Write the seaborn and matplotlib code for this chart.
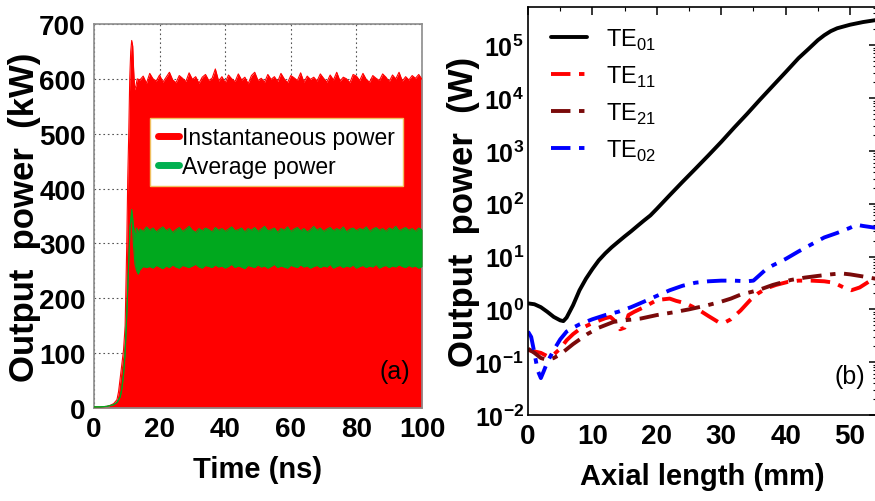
import numpy as np
import pandas as pd
import matplotlib
matplotlib.use("Agg")
import matplotlib.pyplot as plt
import seaborn as sns
from matplotlib.ticker import FixedLocator, FixedFormatter, NullFormatter, LogLocator
from matplotlib.lines import Line2D

sns.set_theme(style="white")
FAM = ["Liberation Sans Narrow", "Liberation Sans", "DejaVu Sans"]
plt.rcParams["font.family"] = FAM
plt.rcParams["text.color"] = "black"
plt.rcParams["axes.labelcolor"] = "black"
plt.rcParams["xtick.color"] = "black"
plt.rcParams["ytick.color"] = "black"
plt.rcParams["mathtext.fontset"] = "custom"
plt.rcParams["mathtext.rm"] = "Liberation Sans"
plt.rcParams["mathtext.bf"] = "Liberation Sans:bold"

# ---------------- panel (a) data ----------------
rise_t = [0, 2, 4, 5, 6, 7, 7.5, 8, 8.5, 9, 9.5, 10, 10.3, 10.6, 10.9, 11.2, 11.5, 11.8, 12.1, 12.4, 12.8, 13.2]
rise_inst = [2, 2, 3, 5, 8, 15, 30, 55, 80, 105, 150, 300, 420, 500, 600, 650, 670, 660, 615, 580, 588, 600]
steady_t = list(range(14, 101))
steady_inst = [598, 605, 592, 610, 600, 596, 607, 594, 603, 612, 598, 593, 606, 601, 595, 611, 599, 604,
               592, 603, 608, 597, 601, 618, 596, 604, 593, 607, 600, 595, 609, 598, 603, 591, 606, 612,
               597, 601, 594, 608, 599, 604, 595, 610, 600, 593, 606, 602, 597, 611, 594, 605, 599, 603,
               596, 609, 601, 594, 607, 598, 612, 596, 603, 600, 593, 608, 605, 597, 610, 599, 594, 606,
               601, 597, 609, 603, 595, 607, 600, 612, 596, 604, 598, 606, 601, 608, 599]

avg_rise_t = [0, 2, 4, 6, 7, 8, 8.5, 9, 9.5, 10, 10.5, 11, 11.5, 12, 12.5, 13, 13.5, 14, 15, 16]
avg_rise_hi = [2, 2, 3, 6, 10, 20, 35, 60, 100, 170, 250, 330, 362, 335, 312, 328, 320, 326, 322, 330]
avg_rise_lo = [2, 2, 3, 6, 10, 20, 35, 60, 100, 170, 250, 330, 355, 300, 262, 250, 244, 252, 258, 256]
avg_steady_t = list(range(17, 101))
avg_steady_hi = [324, 328, 321, 326, 330, 323, 327, 320, 325, 329, 322, 326, 331, 324, 320, 327, 323,
                 328, 325, 321, 329, 324, 327, 322, 326, 330, 323, 325, 328, 321, 327, 324, 329, 322,
                 326, 331, 323, 325, 328, 320, 327, 324, 330, 322, 326, 329, 323, 327, 321, 325, 331,
                 324, 328, 322, 326, 329, 323, 327, 324, 330, 321, 326, 328, 323, 327, 325, 330, 322,
                 326, 329, 324, 327, 322, 328, 325, 331, 323, 326, 329, 324, 327, 322, 328, 325]
avg_steady_lo = [258, 255, 260, 257, 254, 259, 256, 261, 257, 255, 260, 258, 256, 259, 262, 257, 255,
                 260, 258, 256, 261, 257, 259, 255, 258, 262, 256, 259, 257, 254, 260, 258, 256, 261,
                 257, 259, 255, 258, 262, 256, 259, 257, 255, 260, 258, 256, 261, 257, 259, 255, 258,
                 260, 256, 259, 257, 262, 255, 258, 260, 256, 259, 257, 261, 255, 258, 260, 256, 259,
                 257, 262, 255, 258, 260, 256, 259, 257, 261, 258, 256, 260, 257, 259, 255, 258]

a_xticks = [0, 20, 40, 60, 80, 100]
a_yticks = [0, 100, 200, 300, 400, 500, 600, 700]

# ---------------- panel (b) data ----------------
te01_x = [0, 1, 2, 3, 4, 5, 5.5, 6, 7, 8, 9, 10, 11, 12, 13, 14, 15, 16, 17, 18, 19, 20, 22, 24, 26,
          28, 30, 32, 34, 36, 38, 40, 42, 43.5, 45, 46, 47, 48, 50, 52, 54]
te01_y = [1.3, 1.25, 1.1, 0.9, 0.72, 0.62, 0.6, 0.7, 1.2, 2.3, 3.8, 5.8, 8.5, 11.5, 15, 19, 24, 30, 38,
          48, 60, 80, 145, 260, 460, 820, 1480, 2750, 5000, 9300, 17000, 31000, 57000, 84000, 125000,
          155000, 185000, 210000, 245000, 275000, 300000]
te11_x = [0, 1, 2, 3, 4, 5, 6, 7, 8, 10, 12, 12.8, 13.5, 14.3, 15, 15.6, 16.5, 18, 20, 22, 23, 24.5,
          26.4, 28, 29.5, 30.5, 31.5, 33, 34.5, 35.7, 37, 38.5, 40.3, 42, 44, 46, 47.5, 49, 50.2, 51.5, 53, 54]
te11_y = [0.17, 0.16, 0.15, 0.13, 0.14, 0.18, 0.26, 0.34, 0.42, 0.55, 0.68, 0.72, 0.6, 0.42, 0.45, 0.78,
          0.9, 1.1, 1.5, 1.6, 1.45, 1.3, 1.0, 0.75, 0.58, 0.56, 0.65, 0.95, 1.5, 2.0, 2.5, 2.9, 3.3, 3.5,
          3.5, 3.4, 3.2, 2.6, 2.3, 2.6, 3.4, 3.8]
te21_x = [0, 1, 2, 3, 4, 5, 7, 9.2, 11, 13.3, 15, 17.5, 20, 22.6, 25, 27.9, 30, 31.5, 33, 35.7, 38,
          40.8, 43, 45, 47, 48.6, 50, 52, 54]
te21_y = [0.18, 0.15, 0.12, 0.11, 0.12, 0.14, 0.22, 0.34, 0.45, 0.58, 0.62, 0.67, 0.78, 0.88, 1.0, 1.2,
          1.4, 1.6, 1.9, 2.3, 2.9, 3.6, 4.0, 4.3, 4.6, 4.8, 4.6, 4.2, 3.8]
te02_x = [0, 0.5, 1, 1.5, 2, 2.5, 3, 4, 5, 6, 7, 8, 10, 12, 14, 16, 18, 20, 22, 24, 26, 28, 30, 32, 34,
          35, 36, 37, 38, 40, 42, 44, 46, 48, 50, 51, 52, 54]
te02_y = [0.38, 0.3, 0.15, 0.07, 0.05, 0.07, 0.1, 0.17, 0.27, 0.38, 0.45, 0.52, 0.65, 0.78, 0.9, 1.1, 1.4,
          1.8, 2.3, 2.8, 3.2, 3.4, 3.5, 3.5, 3.4, 3.5, 4.5, 5.8, 6.8, 9, 12.5, 17, 23, 28, 35, 40, 38, 35]

b_xticks = [0, 10, 20, 30, 40, 50]
b_yexp = [-2, -1, 0, 1, 2, 3, 4, 5]

# ---------------- figure ----------------
fig = plt.figure(figsize=(8.75, 5.02), dpi=100)
axa = fig.add_axes([0.1074, 0.1853, 0.3749, 0.7649])
axb = fig.add_axes([0.6034, 0.1713, 0.3990, 0.8127])

RED = "#ff0000"
GREEN = "#00a81e"
TICKFS = 20

inst = pd.DataFrame({"t": rise_t + steady_t, "p": rise_inst + steady_inst})
avg = pd.DataFrame({"t": avg_rise_t + avg_steady_t, "hi": avg_rise_hi + avg_steady_hi,
                    "lo": avg_rise_lo + avg_steady_lo})

axa.fill_between(inst["t"], 0, inst["p"], color=RED, lw=0, zorder=2)
sns.lineplot(data=inst, x="t", y="p", ax=axa, color=RED, lw=0.8, zorder=3, legend=False)
axa.fill_between(avg["t"], avg["lo"], avg["hi"], color=GREEN, lw=0, zorder=4)
sns.lineplot(data=avg, x="t", y="hi", ax=axa, color=GREEN, lw=0.8, zorder=5, legend=False)
sns.lineplot(data=avg, x="t", y="lo", ax=axa, color=GREEN, lw=0.8, zorder=5, legend=False)

axa.set_xlim(0, 100)
axa.set_ylim(0, 700)
axa.set_xticks(a_xticks)
axa.set_yticks(a_yticks)
axa.set_xticklabels([str(v) for v in a_xticks], fontsize=TICKFS, fontweight="bold")
axa.set_yticklabels([str(v) for v in a_yticks], fontsize=TICKFS, fontweight="bold")
axa.grid(True, color="#555555", linestyle=(0, (1.5, 2.5)), lw=0.8, zorder=0)
axa.set_axisbelow(True)
for s in axa.spines.values():
    s.set_color("#8c8c8c")
    s.set_linewidth(1.2)
axa.tick_params(axis="both", direction="out", length=3, width=1, color="#8c8c8c", pad=3)
axa.set_xlabel("Time (ns)", fontsize=21, fontweight="bold", labelpad=9)
axa.set_ylabel("Output  power  (kW)", fontsize=25, fontweight="bold")
axa.yaxis.set_label_coords(-0.163, 0.5)
axa.text(0.965, 0.065, "(a)", transform=axa.transAxes, ha="right", va="bottom", fontsize=18)

ha = [Line2D([], [], color=RED, lw=5), Line2D([], [], color="#00b050", lw=5)]
leg = axa.legend(ha, ["Instantaneous power", "Average power"], loc="upper left",
                 bbox_to_anchor=(0.172, 0.755), fontsize=16.5, handlelength=0.9, handletextpad=0.15,
                 frameon=True, fancybox=False, framealpha=1, borderpad=0.35, labelspacing=0.25,
                 borderaxespad=0)
leg.get_frame().set_edgecolor("#f0c060")
leg.get_frame().set_linewidth(1.0)

# panel (b)
DD = (0, (5, 2.2, 1.4, 2.2))
series = [
    (te01_x, te01_y, "black", "-", r"TE$_{\mathregular{01}}$"),
    (te11_x, te11_y, "#ff0000", DD, r"TE$_{\mathregular{11}}$"),
    (te21_x, te21_y, "#7a0a0a", DD, r"TE$_{\mathregular{21}}$"),
    (te02_x, te02_y, "#0000ff", DD, r"TE$_{\mathregular{02}}$"),
]
for xs, ys, c, ls, lab in series:
    df = pd.DataFrame({"x": xs, "y": ys})
    sns.lineplot(data=df, x="x", y="y", ax=axb, color=c, lw=2.8, linestyle=ls, label=lab)

axb.set_yscale("log")
axb.set_xlim(0, 54.2)
axb.set_ylim(1e-2, 5.3e5)
axb.xaxis.set_major_locator(FixedLocator(b_xticks))
axb.xaxis.set_minor_locator(FixedLocator([5, 15, 25, 35, 45]))
axb.set_xticklabels([str(v) for v in b_xticks], fontsize=TICKFS, fontweight="bold")
axb.yaxis.set_major_locator(FixedLocator([10.0 ** e for e in b_yexp]))
axb.yaxis.set_major_formatter(FixedFormatter(
    [r"$\mathbf{10^{%d}}$" % e if e >= 0 else r"$\mathbf{10^{-%d}}$" % (-e) for e in b_yexp]))
axb.yaxis.set_minor_locator(LogLocator(base=10, subs=np.arange(2, 10), numticks=20))
axb.yaxis.set_minor_formatter(NullFormatter())
for lab in axb.get_yticklabels():
    lab.set_fontsize(18)
for s in axb.spines.values():
    s.set_color("black")
    s.set_linewidth(1.2)
axb.tick_params(axis="x", which="major", direction="in", length=6, width=1.1, top=True, pad=6)
axb.tick_params(axis="y", which="major", direction="in", length=6, width=1.1, right=True, pad=3)
axb.tick_params(axis="both", which="minor", direction="in", length=3, width=0.8, top=True, right=True)
axb.set_xlabel("Axial length (mm)", fontsize=21, fontweight="bold", labelpad=9)
axb.set_ylabel("Output  power  (W)", fontsize=25, fontweight="bold")
axb.yaxis.set_label_coords(-0.138, 0.5)
axb.text(0.965, 0.065, "(b)", transform=axb.transAxes, ha="right", va="bottom", fontsize=18)
legb = axb.legend(loc="upper left", bbox_to_anchor=(0.04, 0.975), fontsize=17, frameon=False,
                  handlelength=1.5, handletextpad=0.8, labelspacing=0.5, borderaxespad=0)

fig.savefig("out.png", dpi=100)
